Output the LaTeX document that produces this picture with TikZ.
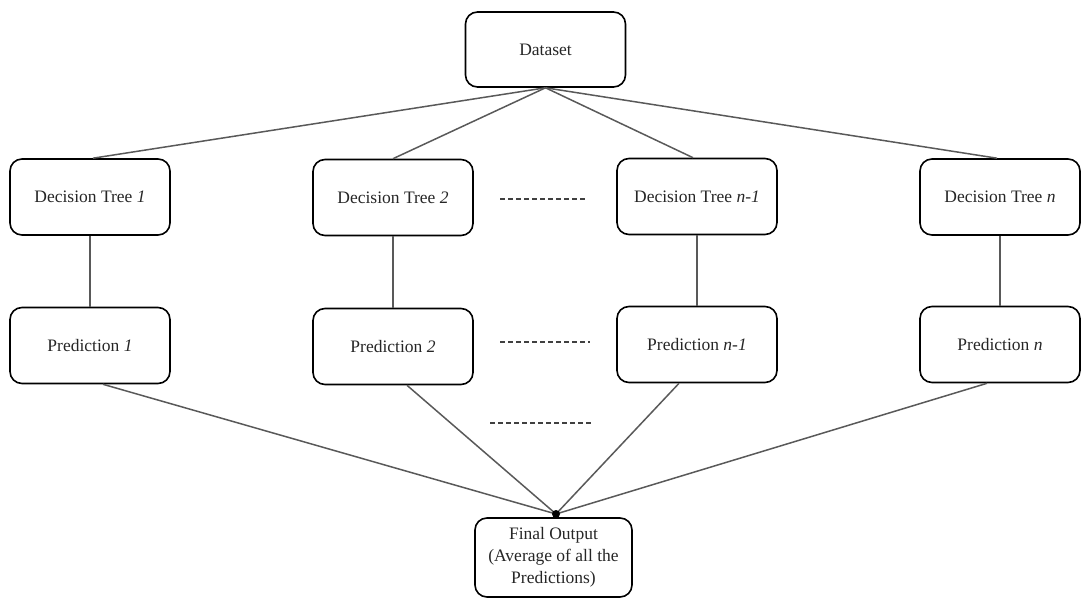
\documentclass[tikz,border=0pt]{standalone}
\usepackage{fontspec}
\setmainfont{Liberation Serif}
\tikzset{
  treebox/.style={draw=black, line width=1.6pt, rounded corners=12pt,
    minimum width=160pt, minimum height=76pt, inner sep=2pt,
    font=\fontsize{17.5}{22}\selectfont, text=black!85},
  link/.style={draw=black!65, line width=1.5pt},
  gap/.style={draw=black!75, line width=1.2pt, dash pattern=on 5pt off 3pt}
}
\begin{document}
\begin{tikzpicture}[x=1pt, y=-1pt]
  \useasboundingbox (0,0) rectangle (1081,607);

  \node[treebox, minimum height=75pt] (data) at (545.5,49.5) {Dataset};

  \node[treebox] (dt1) at (90,197)  {Decision Tree \textit{1}};
  \node[treebox] (dt2) at (393,197.5) {Decision Tree \textit{2}};
  \node[treebox] (dtm) at (697,196.5) {Decision Tree \textit{n-1}};
  \node[treebox] (dtn) at (1000,197)  {Decision Tree \textit{n}};

  \node[treebox] (p1) at (90,345.5) {Prediction \textit{1}};
  \node[treebox] (p2) at (393,346.5)  {Prediction \textit{2}};
  \node[treebox] (pm) at (697,344.5) {Prediction \textit{n-1}};
  \node[treebox] (pn) at (1000,344.5) {Prediction \textit{n}};

  \node[treebox, minimum width=157pt, minimum height=79pt, align=center]
    (final) at (553.5,557.5) {Final Output\\(Average of all the\\Predictions)};
  \coordinate (dot) at (556,514);

  % dataset to trees
  \draw[link] (data.south) -- ([xshift=3pt]dt1.north);
  \draw[link] (data.south) -- (dt2.north);
  \draw[link] (data.south) -- ([xshift=-4pt]dtm.north);
  \draw[link] (data.south) -- ([xshift=-3pt]dtn.north);

  % trees to predictions
  \draw[link] (dt1) -- (p1);
  \draw[link] (dt2) -- (p2);
  \draw[link] (dtm) -- (pm);
  \draw[link] (dtn) -- (pn);

  % predictions to output
  \draw[link] ([xshift=13pt]p1.south) -- (dot);
  \draw[link] ([xshift=14pt]p2.south) -- (dot);
  \draw[link] ([xshift=-18pt]pm.south) -- (dot);
  \draw[link] ([xshift=-13pt]pn.south) -- (dot);
  \fill (dot) circle (4pt);

  \draw[gap] (500,199) -- (587,199);
  \draw[gap] (500,342) -- (590,342);
  \draw[gap] (490,423) -- (592,423);
\end{tikzpicture}
\end{document}
